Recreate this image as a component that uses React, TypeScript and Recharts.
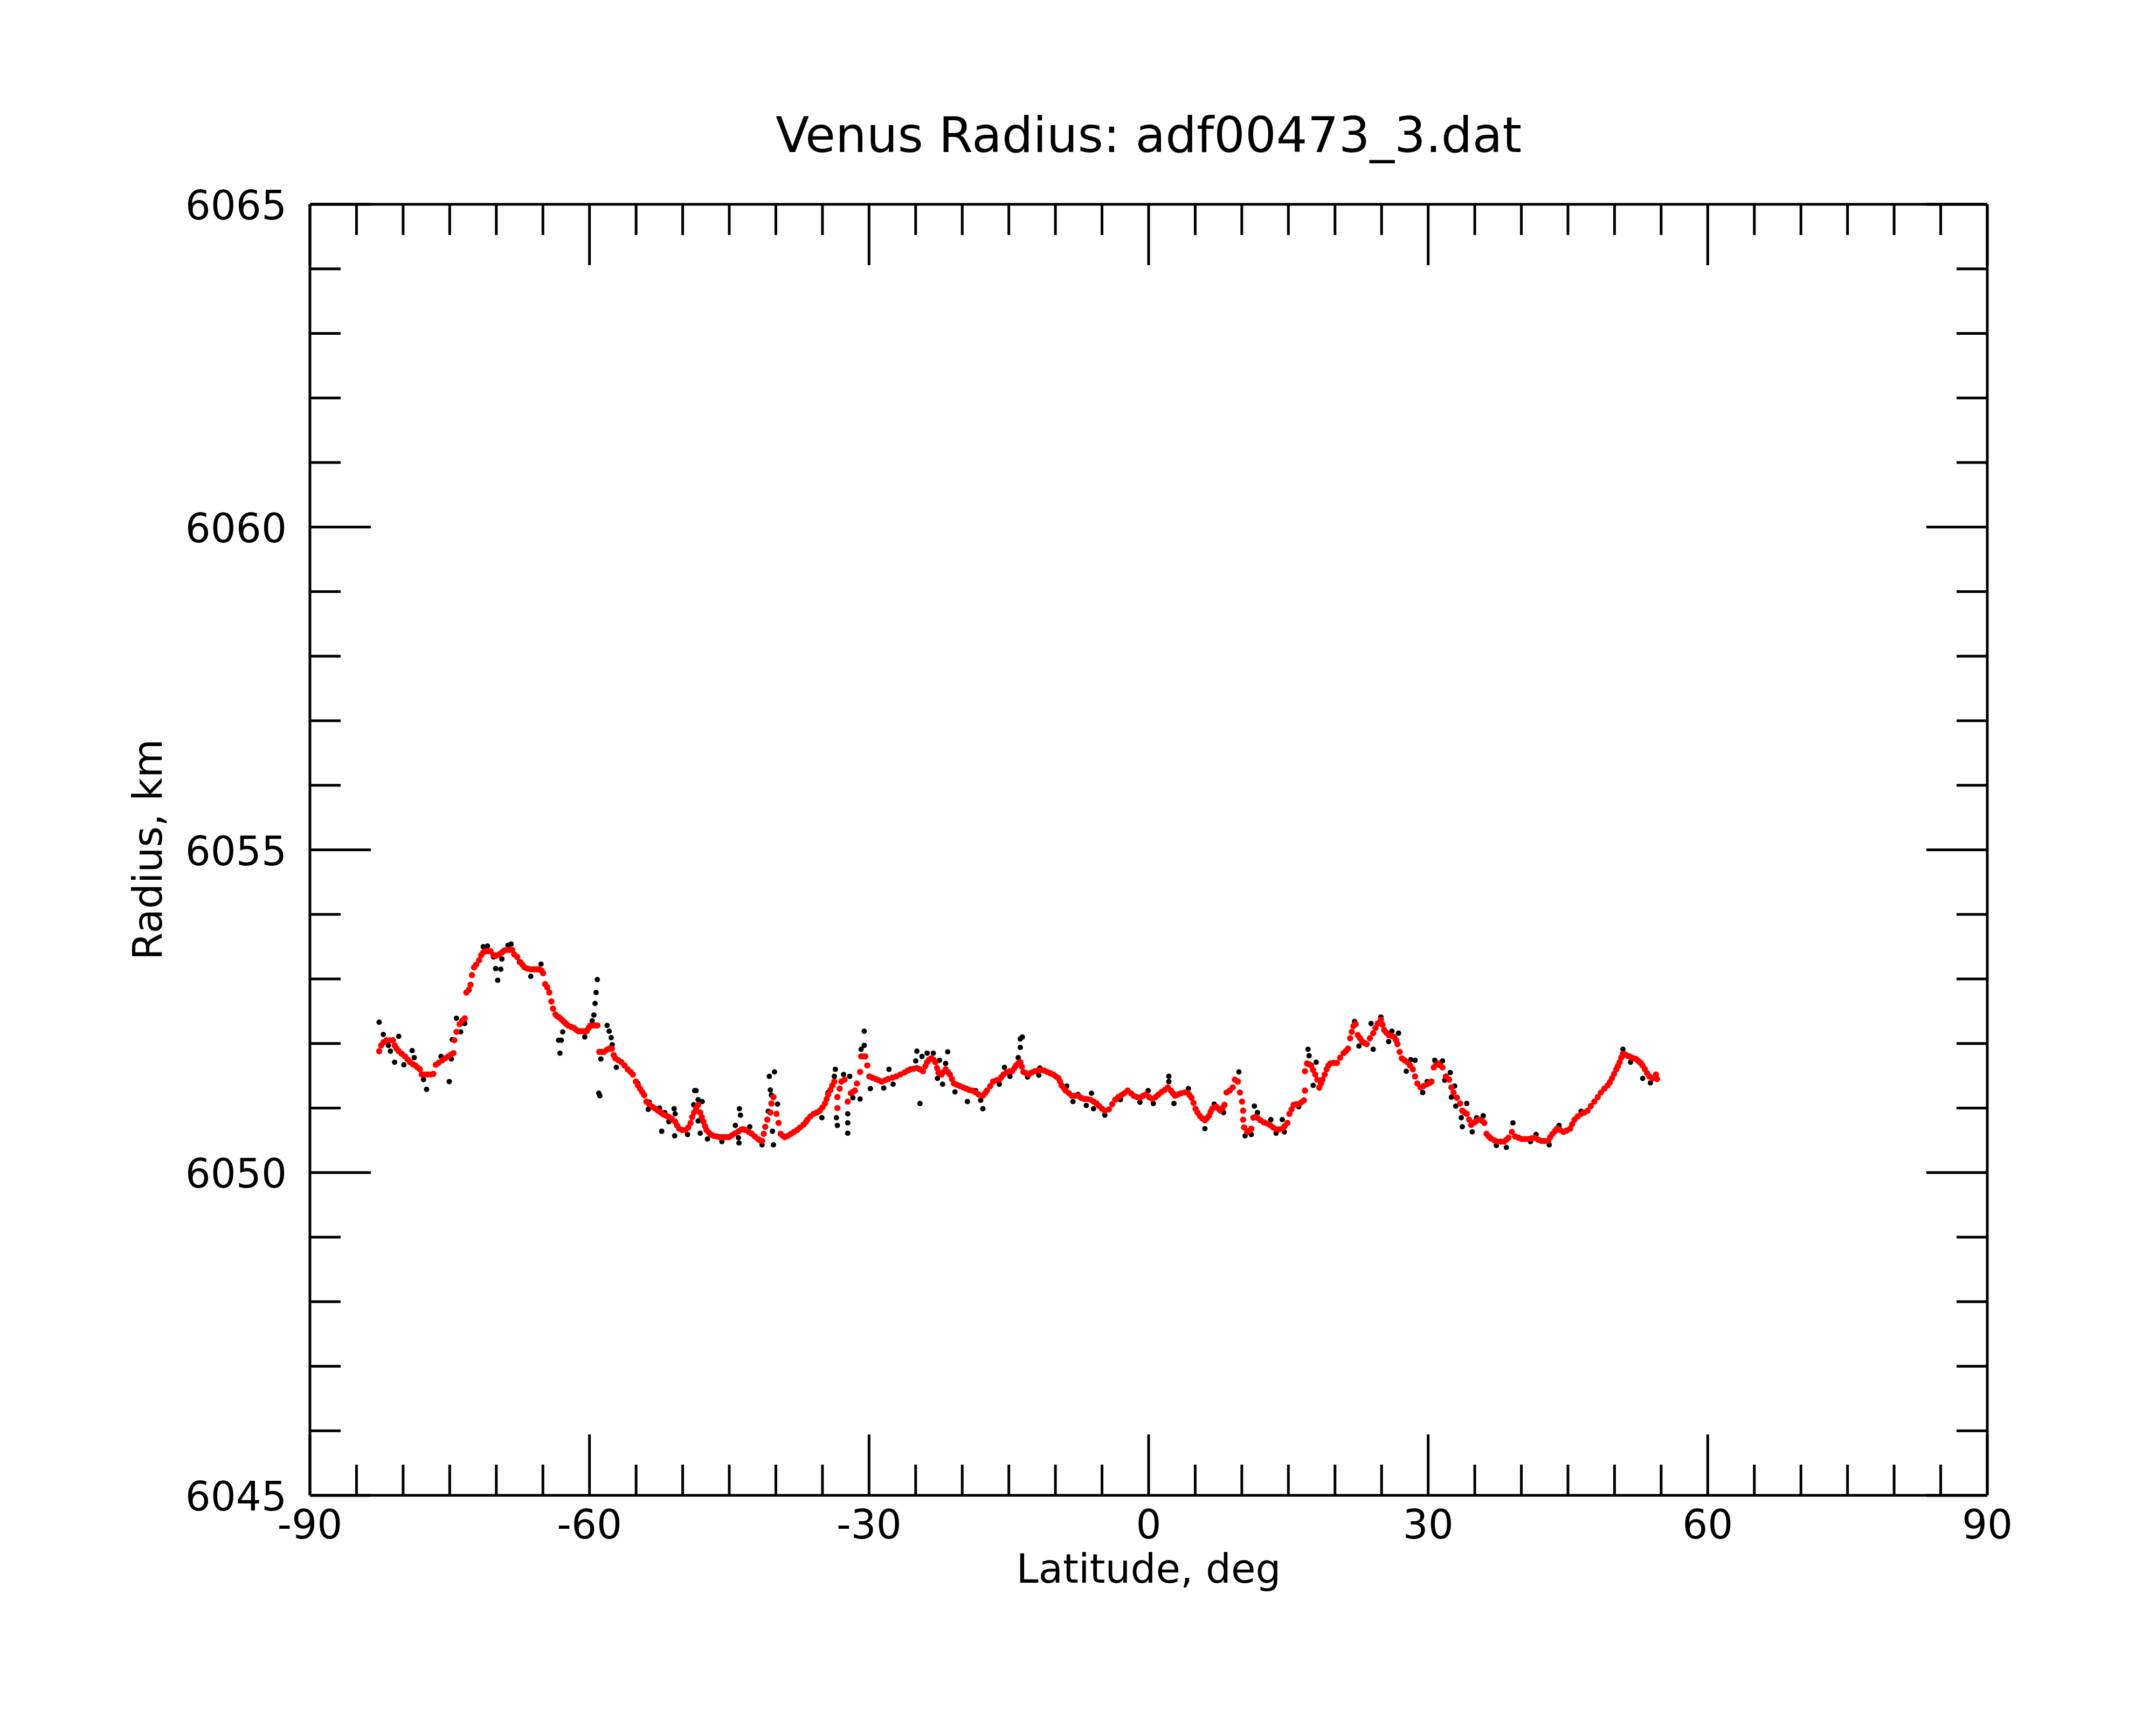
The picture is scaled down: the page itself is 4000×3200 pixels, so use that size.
import React from 'react';
import { ScatterChart, Scatter, XAxis, YAxis } from 'recharts';

// Smoothed radius profile (red): [latitude deg, radius km]
const smoothPoints: [number, number][] = [
  [-82.57, 6051.88], [-82.35, 6051.97], [-82.1, 6052.02], [-81.8, 6052.05], [-81.45, 6052.05], [-81.1, 6052.05],
  [-80.9, 6051.97], [-80.7, 6051.92], [-80.47, 6051.88], [-80.15, 6051.84], [-79.8, 6051.8], [-79.5, 6051.75],
  [-79.25, 6051.71], [-78.95, 6051.68], [-78.7, 6051.66], [-78.45, 6051.63], [-78.2, 6051.6], [-78.0, 6051.52],
  [-77.7, 6051.52], [-77.4, 6051.52], [-77.05, 6051.52], [-76.75, 6051.53], [-76.49, 6051.67], [-76.2, 6051.7],
  [-75.8, 6051.74], [-75.5, 6051.77], [-75.16, 6051.8], [-74.85, 6051.83], [-74.6, 6051.85],
  [-74.5, 6052.05], [-74.27, 6052.18], [-73.94, 6052.3], [-73.65, 6052.35], [-73.39, 6052.39], [-73.21, 6052.79],
  [-72.95, 6052.83], [-72.77, 6052.91], [-72.61, 6053.06], [-72.39, 6053.18], [-72.17, 6053.22], [-71.84, 6053.29],
  [-71.62, 6053.37], [-71.4, 6053.41], [-71.17, 6053.43], [-70.9, 6053.43], [-70.62, 6053.43], [-70.3, 6053.37],
  [-70.0, 6053.36], [-69.7, 6053.38], [-69.4, 6053.41], [-69.15, 6053.44], [-68.9, 6053.45], [-68.6, 6053.45],
  [-68.3, 6053.45], [-68.08, 6053.38], [-67.75, 6053.34], [-67.41, 6053.26], [-67.2, 6053.22], [-66.97, 6053.18],
  [-66.65, 6053.16], [-66.3, 6053.15], [-65.95, 6053.15], [-65.65, 6053.15], [-65.4, 6053.15], [-65.15, 6053.13],
  [-64.98, 6053.09], [-64.76, 6052.92], [-64.53, 6052.87], [-64.31, 6052.79], [-64.09, 6052.65], [-63.91, 6052.54],
  [-63.65, 6052.45], [-63.45, 6052.42], [-63.21, 6052.4], [-62.98, 6052.37], [-62.76, 6052.34], [-62.55, 6052.31],
  [-62.32, 6052.28], [-62.0, 6052.26], [-61.66, 6052.24], [-61.4, 6052.21], [-61.2, 6052.19], [-60.95, 6052.19],
  [-60.7, 6052.19], [-60.5, 6052.19], [-60.3, 6052.19], [-60.1, 6052.24], [-59.9, 6052.28], [-59.65, 6052.28],
  [-59.4, 6052.28], [-59.15, 6052.28],
  [-58.95, 6051.87], [-58.7, 6051.87], [-58.45, 6051.87], [-58.15, 6051.9], [-57.9, 6051.92], [-57.6, 6051.92],
  [-57.4, 6051.82], [-57.23, 6051.77], [-56.9, 6051.74], [-56.57, 6051.71], [-56.25, 6051.66], [-55.9, 6051.6],
  [-55.6, 6051.56], [-55.35, 6051.52], [-55.02, 6051.41], [-54.8, 6051.35], [-54.57, 6051.3], [-54.35, 6051.25],
  [-54.13, 6051.2], [-53.9, 6051.1], [-53.6, 6051.06], [-53.25, 6051.02], [-52.95, 6050.99], [-52.65, 6050.96],
  [-52.36, 6050.93], [-52.05, 6050.9], [-51.75, 6050.88], [-51.47, 6050.86], [-51.15, 6050.83], [-50.81, 6050.79],
  [-50.6, 6050.73], [-50.37, 6050.68], [-50.05, 6050.66], [-49.7, 6050.66], [-49.4, 6050.7], [-49.15, 6050.77],
  [-48.98, 6050.86], [-48.78, 6050.93],
  [-48.55, 6051.0], [-48.34, 6051.05], [-48.12, 6050.93], [-47.95, 6050.86], [-47.78, 6050.79], [-47.6, 6050.72],
  [-47.45, 6050.66], [-47.2, 6050.62], [-47.0, 6050.59], [-46.7, 6050.57], [-46.35, 6050.56], [-46.0, 6050.55],
  [-45.68, 6050.55], [-45.35, 6050.55], [-45.02, 6050.55], [-44.7, 6050.58], [-44.35, 6050.61], [-44.0, 6050.64],
  [-43.69, 6050.67], [-43.45, 6050.67], [-43.25, 6050.66], [-42.9, 6050.63], [-42.58, 6050.6], [-42.25, 6050.56],
  [-41.92, 6050.52], [-41.7, 6050.5], [-41.48, 6050.49], [-41.3, 6050.6], [-41.14, 6050.71], [-40.92, 6050.82],
  [-40.59, 6050.93], [-40.48, 6051.07], [-40.26, 6051.17], [-39.93, 6050.91], [-39.71, 6050.77], [-39.48, 6050.6],
  [-39.25, 6050.57], [-39.04, 6050.55], [-38.7, 6050.57], [-38.38, 6050.6], [-38.05, 6050.63], [-37.71, 6050.66],
  [-37.4, 6050.7], [-37.05, 6050.74], [-36.8, 6050.78], [-36.61, 6050.82], [-36.3, 6050.87], [-35.94, 6050.91],
  [-35.6, 6050.93], [-35.28, 6050.96], [-35.0, 6051.01], [-34.73, 6051.07], [-34.55, 6051.14], [-34.39, 6051.21],
  [-34.15, 6051.28], [-33.95, 6051.35], [-33.73, 6051.41], [-33.4, 6051.17], [-33.4, 6051.0], [-33.15, 6051.3],
  [-32.96, 6051.41], [-32.62, 6051.44], [-32.29, 6051.1], [-31.96, 6051.23], [-31.75, 6051.25], [-31.52, 6051.27],
  [-31.3, 6051.38], [-30.96, 6051.56], [-30.85, 6051.8], [-30.6, 6051.8], [-30.41, 6051.8], [-30.19, 6051.66],
  [-29.97, 6051.49], [-29.65, 6051.47], [-29.3, 6051.45], [-28.95, 6051.43], [-28.64, 6051.41], [-28.3, 6051.43],
  [-27.97, 6051.45], [-27.5, 6051.47], [-27.09, 6051.49], [-26.65, 6051.52], [-26.2, 6051.55], [-25.85, 6051.58],
  [-25.54, 6051.6], [-25.2, 6051.61], [-24.88, 6051.62], [-24.55, 6051.6], [-24.21, 6051.57], [-23.95, 6051.65],
  [-23.77, 6051.71], [-23.55, 6051.75], [-23.33, 6051.77], [-23.1, 6051.75], [-22.88, 6051.71], [-22.7, 6051.62],
  [-22.55, 6051.55], [-22.22, 6051.52], [-22.0, 6051.56], [-21.78, 6051.6], [-21.55, 6051.56], [-21.33, 6051.52],
  [-21.1, 6051.45], [-20.89, 6051.38], [-20.55, 6051.36], [-20.23, 6051.34], [-19.9, 6051.32], [-19.56, 6051.3],
  [-19.25, 6051.28], [-18.9, 6051.27], [-18.55, 6051.24], [-18.24, 6051.21], [-17.79, 6051.19], [-17.55, 6051.23],
  [-17.35, 6051.27], [-17.0, 6051.34], [-16.69, 6051.41], [-16.35, 6051.43], [-16.02, 6051.44], [-15.8, 6051.48],
  [-15.58, 6051.52], [-15.25, 6051.55], [-14.92, 6051.57],
  [-14.65, 6051.57], [-14.4, 6051.62], [-14.21, 6051.66], [-14.0, 6051.69], [-13.77, 6051.71], [-13.6, 6051.64],
  [-13.44, 6051.56], [-13.15, 6051.54], [-12.88, 6051.52], [-12.55, 6051.55], [-12.22, 6051.57], [-11.9, 6051.58],
  [-11.56, 6051.59], [-11.2, 6051.58], [-10.89, 6051.56], [-10.55, 6051.54], [-10.23, 6051.52], [-9.95, 6051.49],
  [-9.67, 6051.46], [-9.5, 6051.41], [-9.34, 6051.35], [-9.1, 6051.31], [-8.9, 6051.27], [-8.55, 6051.23],
  [-8.24, 6051.19], [-7.9, 6051.19], [-7.57, 6051.19], [-7.25, 6051.16], [-6.91, 6051.14], [-6.6, 6051.14],
  [-6.25, 6051.13], [-5.9, 6051.1], [-5.58, 6051.07], [-5.3, 6051.03], [-5.0, 6050.99], [-4.7, 6050.96],
  [-4.25, 6050.98], [-3.9, 6051.06], [-3.59, 6051.13], [-3.25, 6051.17], [-2.92, 6051.2], [-2.6, 6051.23],
  [-2.26, 6051.27], [-1.9, 6051.23], [-1.6, 6051.19], [-1.25, 6051.17], [-0.93, 6051.16], [-0.6, 6051.19],
  [-0.27, 6051.21], [0.05, 6051.17], [0.4, 6051.14], [0.75, 6051.17], [1.06, 6051.21], [1.4, 6051.25],
  [1.72, 6051.28], [2.06, 6051.32], [2.39, 6051.27], [2.6, 6051.23], [2.83, 6051.19], [3.15, 6051.21],
  [3.5, 6051.23], [3.85, 6051.24], [4.16, 6051.24], [4.4, 6051.2], [4.6, 6051.16], [4.82, 6051.08],
  [5.04, 6050.99], [5.25, 6050.93], [5.49, 6050.88], [5.75, 6050.84], [6.04, 6050.81], [6.25, 6050.84],
  [6.48, 6050.88], [6.65, 6050.94], [6.82, 6050.99], [7.05, 6051.01], [7.26, 6051.02], [7.5, 6050.99],
  [7.7, 6050.96], [7.92, 6051.0], [8.14, 6051.05], [8.36, 6051.24], [8.7, 6051.27], [9.03, 6051.32],
  [9.25, 6051.44], [9.58, 6051.41], [9.8, 6051.24], [10.03, 6051.1], [10.14, 6050.96], [10.14, 6050.82],
  [10.25, 6050.7], [10.58, 6050.63], [10.8, 6050.65], [11.02, 6050.68], [11.24, 6050.85], [11.45, 6050.86],
  [11.68, 6050.85], [12.0, 6050.81], [12.35, 6050.78], [12.7, 6050.76], [13.01, 6050.74], [13.35, 6050.7],
  [13.68, 6050.67], [14.0, 6050.67], [14.34, 6050.68], [14.6, 6050.72], [14.89, 6050.77], [15.11, 6050.91],
  [15.34, 6050.98], [15.56, 6051.05], [15.85, 6051.06], [16.11, 6051.06], [16.4, 6051.09], [16.67, 6051.12],
  [16.78, 6051.27], [16.78, 6051.57], [17.0, 6051.69], [17.2, 6051.68], [17.44, 6051.66], [17.65, 6051.59],
  [17.88, 6051.52], [18.1, 6051.44], [18.32, 6051.32], [18.5, 6051.38], [18.66, 6051.44], [18.9, 6051.52],
  [19.1, 6051.6], [19.3, 6051.66], [19.5, 6051.69],
  [19.85, 6051.7], [20.21, 6051.7], [20.55, 6051.78], [20.92, 6051.85], [21.15, 6051.88], [21.39, 6051.92],
  [21.63, 6052.08], [21.8, 6052.18], [21.98, 6052.27], [22.22, 6052.3], [22.45, 6052.13], [22.7, 6052.08],
  [22.92, 6052.03], [23.15, 6052.01], [23.4, 6051.99], [23.75, 6052.08], [24.1, 6052.16], [24.35, 6052.24],
  [24.58, 6052.31], [24.93, 6052.37], [25.1, 6052.29], [25.28, 6052.21], [25.5, 6052.17], [25.76, 6052.13],
  [26.05, 6052.12], [26.35, 6052.1], [26.55, 6052.05], [26.7, 6051.99], [26.94, 6051.87], [27.17, 6051.77],
  [27.45, 6051.74], [27.76, 6051.71], [28.05, 6051.66], [28.35, 6051.6], [28.59, 6051.49], [28.83, 6051.38],
  [29.18, 6051.32], [29.5, 6051.34], [29.89, 6051.37], [30.15, 6051.39], [30.36, 6051.41], [30.6, 6051.63],
  [30.85, 6051.67], [31.07, 6051.69], [31.3, 6051.66], [31.54, 6051.63], [31.9, 6051.49], [32.25, 6051.44],
  [32.49, 6051.32], [32.72, 6051.24], [33.08, 6051.16], [33.43, 6051.07], [33.66, 6050.96], [33.9, 6050.93],
  [34.14, 6050.91], [34.4, 6050.82], [34.61, 6050.74], [34.85, 6050.77], [35.08, 6050.79], [35.3, 6050.81],
  [35.55, 6050.82], [35.8, 6050.8], [36.03, 6050.77], [36.26, 6050.6], [36.5, 6050.56], [36.73, 6050.53],
  [37.1, 6050.5], [37.44, 6050.48], [37.8, 6050.48], [38.15, 6050.48], [38.4, 6050.51], [38.62, 6050.54],
  [38.98, 6050.63], [39.33, 6050.56], [39.7, 6050.54], [40.04, 6050.52], [40.4, 6050.52], [40.75, 6050.52],
  [41.1, 6050.53], [41.46, 6050.54], [41.8, 6050.51], [42.16, 6050.49], [42.5, 6050.49], [42.87, 6050.49],
  [43.1, 6050.55], [43.35, 6050.6], [43.6, 6050.64], [43.82, 6050.68], [44.15, 6050.66], [44.52, 6050.63],
  [44.85, 6050.65], [45.23, 6050.68], [45.45, 6050.75], [45.7, 6050.82], [46.05, 6050.87], [46.41, 6050.91],
  [46.75, 6050.93], [47.12, 6050.96], [47.45, 6051.03], [47.83, 6051.1], [48.2, 6051.17], [48.54, 6051.24],
  [48.9, 6051.3], [49.25, 6051.35], [49.5, 6051.4], [49.72, 6051.46], [49.95, 6051.53], [50.19, 6051.6],
  [50.36, 6051.65], [50.54, 6051.71], [50.72, 6051.78], [50.9, 6051.84], [51.15, 6051.83], [51.37, 6051.81],
  [51.6, 6051.8], [51.84, 6051.78], [52.05, 6051.77], [52.31, 6051.76], [52.55, 6051.73], [52.79, 6051.7],
  [53.0, 6051.66], [53.26, 6051.6], [53.5, 6051.54], [53.73, 6051.49], [54.08, 6051.46], [54.44, 6051.52],
  [54.56, 6051.45],
];

// Raw radius samples that stand out from the smoothed profile (black): [latitude deg, radius km]
const rawPoints: [number, number][] = [
  [-82.57, 6052.33], [-82.13, 6052.14], [-81.58, 6051.97], [-81.36, 6051.88], [-80.91, 6051.71], [-80.47, 6052.11],
  [-79.92, 6051.67], [-79.03, 6051.89], [-78.81, 6051.78], [-77.81, 6051.44], [-77.48, 6051.29], [-75.93, 6051.8],
  [-75.05, 6051.41], [-74.83, 6051.76], [-74.72, 6052.06], [-74.27, 6052.39], [-73.83, 6052.18], [-73.39, 6052.31],
  [-71.4, 6053.5], [-70.95, 6053.51], [-70.29, 6053.34], [-70.07, 6053.16], [-69.52, 6053.15], [-69.85, 6052.98],
  [-69.4, 6053.31], [-68.74, 6053.52], [-68.41, 6053.54], [-67.52, 6053.26], [-66.3, 6053.04], [-65.2, 6053.23],
  [-59.16, 6052.99], [-59.29, 6052.79], [-59.4, 6052.62], [-59.53, 6052.44], [-59.71, 6052.35], [-62.87, 6052.18],
  [-63.31, 6052.05], [-63.03, 6052.05], [-63.17, 6051.85], [-60.5, 6052.1], [-59.0, 6051.23], [-58.89, 6051.19],
  [-58.11, 6052.28], [-57.89, 6052.19], [-57.67, 6052.09], [-57.56, 6051.98], [-58.78, 6051.76], [-57.12, 6051.63],
  [-54.8, 6051.38], [-53.69, 6050.98], [-53.58, 6051.09], [-52.48, 6051.0], [-51.92, 6050.93], [-52.25, 6050.64],
  [-51.48, 6050.79], [-50.92, 6050.99], [-50.81, 6050.91], [-50.86, 6050.57], [-49.48, 6050.59], [-48.71, 6051.27],
  [-48.82, 6051.05],
  [-48.56, 6051.27], [-48.34, 6051.13], [-47.9, 6051.1], [-48.34, 6050.8], [-48.12, 6050.61], [-47.34, 6050.52],
  [-45.79, 6050.48], [-44.35, 6050.73], [-43.91, 6050.99], [-43.8, 6050.89], [-44.02, 6050.54], [-43.96, 6050.46],
  [-42.8, 6050.71], [-41.48, 6050.43], [-40.7, 6051.49], [-40.15, 6051.56], [-40.59, 6051.28], [-40.48, 6051.2],
  [-40.81, 6050.95], [-39.82, 6051.06], [-40.37, 6050.64], [-40.26, 6050.43], [-35.06, 6050.85], [-34.39, 6051.24],
  [-33.62, 6051.6], [-33.73, 6051.49], [-33.51, 6050.85], [-33.4, 6050.73], [-32.29, 6050.91], [-32.29, 6050.77],
  [-32.29, 6050.61], [-32.73, 6051.52], [-32.07, 6051.49], [-31.74, 6051.16], [-30.96, 6051.14], [-30.52, 6052.19],
  [-30.52, 6051.97], [-30.85, 6051.91], [-29.86, 6051.3], [-28.42, 6051.31], [-27.86, 6051.6], [-27.42, 6051.37],
  [-24.87, 6051.88], [-24.32, 6051.8], [-24.99, 6051.73], [-24.54, 6051.07], [-23.77, 6051.85], [-23.11, 6051.85],
  [-22.44, 6051.74], [-21.56, 6051.87], [-22.66, 6051.46], [-22.11, 6051.37], [-21.78, 6051.69], [-20.78, 6051.25],
  [-19.45, 6051.1], [-18.57, 6051.27], [-18.02, 6051.12], [-17.79, 6050.99], [-16.02, 6051.37], [-15.47, 6051.63],
  [-13.77, 6052.07], [-13.55, 6052.1], [-13.77, 6051.94], [-13.99, 6051.78], [-14.88, 6051.49], [-12.99, 6051.48],
  [-11.67, 6051.62], [-11.78, 6051.51], [-8.79, 6051.34], [-8.12, 6051.1], [-7.57, 6051.21], [-6.69, 6051.04],
  [-6.13, 6051.23], [-5.91, 6050.99], [-4.7, 6050.89], [-3.03, 6051.13], [-0.93, 6051.09], [-0.05, 6051.27],
  [0.51, 6051.07], [2.17, 6051.49], [2.17, 6051.41], [2.72, 6051.07], [4.27, 6051.3], [6.04, 6050.68],
  [7.04, 6051.06], [8.04, 6050.93], [9.69, 6051.56], [10.36, 6050.57], [11.02, 6050.59], [11.35, 6051.03],
  [11.68, 6050.93], [13.12, 6050.82], [13.68, 6050.61], [14.34, 6050.82], [14.56, 6050.63], [16.11, 6051.02],
  [17.1, 6051.91], [17.22, 6051.81], [17.99, 6051.71], [17.66, 6051.35], [18.32, 6051.31],
  [22.1, 6052.34], [22.57, 6051.96], [23.87, 6052.31], [24.1, 6051.91], [24.93, 6052.41], [26.11, 6052.19],
  [26.82, 6052.16], [25.76, 6052.03], [27.65, 6051.57], [28.12, 6051.75], [28.59, 6051.74], [29.42, 6051.24],
  [29.89, 6051.41], [30.71, 6051.74], [31.54, 6051.73], [32.37, 6051.55], [31.78, 6051.43], [32.49, 6051.17],
  [32.96, 6051.03], [32.84, 6051.34], [34.14, 6051.07], [33.55, 6050.85], [33.66, 6050.71], [34.73, 6050.63],
  [35.91, 6050.88], [35.2, 6050.85], [37.32, 6050.42], [38.39, 6050.39], [39.1, 6050.77], [40.98, 6050.48],
  [41.58, 6050.59], [42.99, 6050.43], [44.05, 6050.73], [46.41, 6050.95], [50.9, 6051.91], [51.72, 6051.71],
  [53.02, 6051.46], [53.85, 6051.39],
];

const latTicks: number[] = [
  -90, -85, -80, -75, -70, -65, -60, -55, -50, -45, -40, -35, -30, -25, -20, -15, -10, -5,
  0, 5, 10, 15, 20, 25, 30, 35, 40, 45, 50, 55, 60, 65, 70, 75, 80, 85, 90,
];
const latMajor: number[] = [-90, -60, -30, 0, 30, 60, 90];
const radiusTicks: number[] = [
  6045, 6046, 6047, 6048, 6049, 6050, 6051, 6052, 6053, 6054, 6055,
  6056, 6057, 6058, 6059, 6060, 6061, 6062, 6063, 6064, 6065,
];
const radiusMajor: number[] = [6045, 6050, 6055, 6060, 6065];

const titleText = 'Venus Radius: adf00473_3.dat';
const xTitle = 'Latitude, deg';
const yTitle = 'Radius, km';

const FONT = 'DejaVu Sans';
const TICK_FS = 74;
const MAJOR_LEN = 113;
const MINOR_LEN = 57;
const LINE_W = 5;

const smoothData = smoothPoints.map(([x, y]) => ({ x, y }));
const rawData = rawPoints.map(([x, y]) => ({ x, y }));

const BottomTick = (props: any) => {
  const { x, y, payload } = props;
  const v = payload.value;
  const major = latMajor.includes(v);
  const len = major ? MAJOR_LEN : MINOR_LEN;
  return (
    <g>
      <line x1={x} y1={y} x2={x} y2={y - len} stroke="#000" strokeWidth={LINE_W} />
      {major && (
        <text x={x} y={y + 80} textAnchor="middle" fontSize={TICK_FS} fontFamily={FONT} fill="#000">
          {String(v)}
        </text>
      )}
    </g>
  );
};

const TopTick = (props: any) => {
  const { x, y, payload } = props;
  const major = latMajor.includes(payload.value);
  const len = major ? MAJOR_LEN : MINOR_LEN;
  return <line x1={x} y1={y} x2={x} y2={y + len} stroke="#000" strokeWidth={LINE_W} />;
};

const LeftTick = (props: any) => {
  const { x, y, payload } = props;
  const v = payload.value;
  const major = radiusMajor.includes(v);
  const len = major ? MAJOR_LEN : MINOR_LEN;
  return (
    <g>
      <line x1={x} y1={y} x2={x + len} y2={y} stroke="#000" strokeWidth={LINE_W} />
      {major && (
        <text x={x - 43} y={y + 28} textAnchor="end" fontSize={TICK_FS} fontFamily={FONT} fill="#000">
          {String(v)}
        </text>
      )}
    </g>
  );
};

const RightTick = (props: any) => {
  const { x, y, payload } = props;
  const major = radiusMajor.includes(payload.value);
  const len = major ? MAJOR_LEN : MINOR_LEN;
  return <line x1={x} y1={y} x2={x - len} y2={y} stroke="#000" strokeWidth={LINE_W} />;
};

const RedDot = (p: any) => <circle cx={p.cx} cy={p.cy} r={5.8} fill="#ff0000" />;
const BlackDot = (p: any) => <circle cx={p.cx} cy={p.cy} r={5} fill="#000000" />;

const axisLine = { stroke: '#000', strokeWidth: LINE_W };

export default function App() {
  return (
    <div style={{ position: 'absolute', left: 0, top: 0, width: 4000, height: 3200, background: '#fff' }}>
      <ScatterChart
        width={4000}
        height={3200}
        margin={{ top: 329, left: 375, right: 263, bottom: 326 }}
      >
        <XAxis
          xAxisId="bottom"
          orientation="bottom"
          type="number"
          dataKey="x"
          domain={[-90, 90]}
          ticks={latTicks}
          interval={0}
          allowDataOverflow
          height={100}
          tickSize={0}
          tickMargin={0}
          tickLine={false}
          axisLine={axisLine}
          tick={<BottomTick />}
        />
        <XAxis
          xAxisId="top"
          orientation="top"
          type="number"
          dataKey="x"
          domain={[-90, 90]}
          ticks={latTicks}
          interval={0}
          allowDataOverflow
          height={50}
          tickSize={0}
          tickMargin={0}
          tickLine={false}
          axisLine={axisLine}
          tick={<TopTick />}
        />
        <YAxis
          yAxisId="left"
          orientation="left"
          type="number"
          dataKey="y"
          domain={[6045, 6065]}
          ticks={radiusTicks}
          interval={0}
          allowDataOverflow
          width={200}
          tickSize={0}
          tickMargin={0}
          tickLine={false}
          axisLine={axisLine}
          tick={<LeftTick />}
        />
        <YAxis
          yAxisId="right"
          orientation="right"
          type="number"
          dataKey="y"
          domain={[6045, 6065]}
          ticks={radiusTicks}
          interval={0}
          allowDataOverflow
          width={50}
          tickSize={0}
          tickMargin={0}
          tickLine={false}
          axisLine={axisLine}
          tick={<RightTick />}
        />
        <Scatter
          data={rawData}
          xAxisId="bottom"
          yAxisId="left"
          shape={BlackDot}
          isAnimationActive={false}
        />
        <Scatter
          data={smoothData}
          xAxisId="bottom"
          yAxisId="left"
          shape={RedDot}
          isAnimationActive={false}
        />
      </ScatterChart>
      <svg
        width={4000}
        height={3200}
        style={{ position: 'absolute', left: 0, top: 0, pointerEvents: 'none' }}
      >
        <text x={2131} y={282} textAnchor="middle" fontSize={91} fontFamily={FONT} fill="#000">
          {titleText}
        </text>
        <text x={2131} y={2936} textAnchor="middle" fontSize={TICK_FS} fontFamily={FONT} fill="#000">
          {xTitle}
        </text>
        <text
          x={300}
          y={1576}
          textAnchor="middle"
          fontSize={TICK_FS}
          fontFamily={FONT}
          fill="#000"
          transform="rotate(-90, 300, 1576)"
        >
          {yTitle}
        </text>
      </svg>
    </div>
  );
}
